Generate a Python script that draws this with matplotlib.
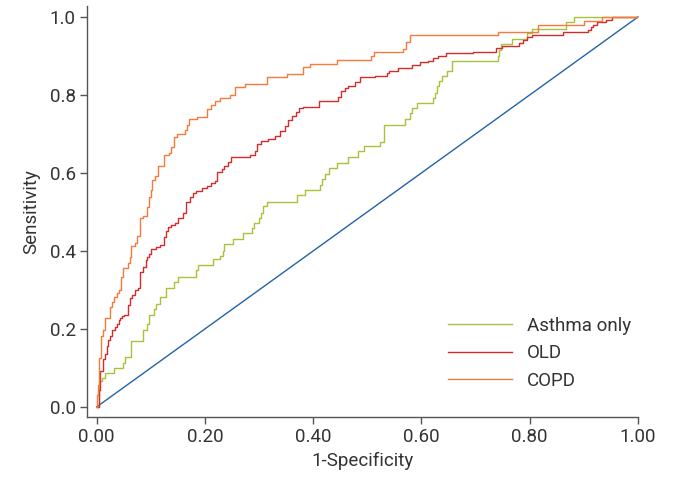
import matplotlib
matplotlib.use("Agg")
import matplotlib.pyplot as plt
from matplotlib.lines import Line2D

plt.rcParams['font.family'] = ['Roboto', 'DejaVu Sans']

# ROC step points: (fpr at which curve jumps, tpr after jump)
copd_fpr = [0.000, 0.000, 0.002, 0.005, 0.008, 0.012, 0.015, 0.024, 0.028, 0.032, 0.037, 0.042,
            0.045, 0.049, 0.057, 0.061, 0.063, 0.070, 0.074, 0.079, 0.085, 0.092, 0.096, 0.100,
            0.102, 0.108, 0.114, 0.125, 0.133, 0.137, 0.142, 0.148, 0.163, 0.167, 0.170, 0.186,
            0.204, 0.212, 0.219, 0.227, 0.247, 0.255, 0.274, 0.314, 0.352, 0.381, 0.394, 0.443,
            0.506, 0.512, 0.566, 0.571, 0.579, 0.742, 0.815, 0.900, 0.933, 1.000]
copd_tpr = [0.000, 0.030, 0.056, 0.126, 0.182, 0.197, 0.228, 0.256, 0.269, 0.282, 0.292, 0.300,
            0.333, 0.356, 0.369, 0.385, 0.413, 0.421, 0.437, 0.485, 0.490, 0.513, 0.538, 0.556,
            0.582, 0.592, 0.618, 0.646, 0.651, 0.667, 0.692, 0.700, 0.710, 0.723, 0.738, 0.744,
            0.764, 0.774, 0.785, 0.792, 0.800, 0.821, 0.828, 0.845, 0.854, 0.872, 0.879, 0.889,
            0.899, 0.910, 0.918, 0.935, 0.954, 0.962, 0.979, 0.990, 1.000, 1.000]

old_fpr = [0.000, 0.004, 0.006, 0.012, 0.016, 0.019, 0.021, 0.025, 0.028, 0.033, 0.038, 0.041,
           0.043, 0.047, 0.051, 0.058, 0.062, 0.066, 0.070, 0.077, 0.079, 0.086, 0.091, 0.093,
           0.097, 0.100, 0.110, 0.117, 0.125, 0.128, 0.132, 0.138, 0.144, 0.151, 0.160, 0.165,
           0.172, 0.178, 0.184, 0.195, 0.203, 0.211, 0.219, 0.222, 0.231, 0.236, 0.243, 0.248,
           0.283, 0.292, 0.297, 0.303, 0.317, 0.329, 0.339, 0.347, 0.353, 0.361, 0.369, 0.374,
           0.381, 0.410, 0.445, 0.451, 0.458, 0.465, 0.478, 0.486, 0.514, 0.537, 0.540, 0.556,
           0.583, 0.597, 0.612, 0.621, 0.631, 0.645, 0.696, 0.737, 0.748, 0.781, 0.788, 0.794,
           0.804, 0.862, 0.908, 0.914, 0.917, 0.924, 0.941, 0.952, 1.000]
old_tpr = [0.000, 0.044, 0.091, 0.123, 0.136, 0.156, 0.172, 0.182, 0.197, 0.205, 0.213, 0.223,
           0.228, 0.232, 0.236, 0.260, 0.279, 0.287, 0.299, 0.305, 0.347, 0.359, 0.377, 0.385,
           0.392, 0.404, 0.411, 0.415, 0.435, 0.451, 0.462, 0.467, 0.472, 0.484, 0.497, 0.526,
           0.537, 0.548, 0.554, 0.560, 0.567, 0.574, 0.579, 0.602, 0.609, 0.618, 0.627, 0.642,
           0.647, 0.655, 0.674, 0.682, 0.686, 0.695, 0.707, 0.720, 0.736, 0.745, 0.755, 0.766,
           0.768, 0.785, 0.795, 0.811, 0.818, 0.824, 0.834, 0.845, 0.849, 0.856, 0.862, 0.869,
           0.876, 0.884, 0.888, 0.895, 0.899, 0.907, 0.910, 0.921, 0.926, 0.934, 0.941, 0.948,
           0.954, 0.961, 0.967, 0.974, 0.978, 0.986, 0.992, 1.000, 1.000]

asthma_fpr = [0.000, 0.005, 0.010, 0.016, 0.032, 0.048, 0.053, 0.063, 0.086, 0.092, 0.097, 0.106,
              0.109, 0.116, 0.128, 0.143, 0.150, 0.184, 0.188, 0.214, 0.227, 0.233, 0.236, 0.252,
              0.270, 0.286, 0.291, 0.300, 0.304, 0.308, 0.314, 0.370, 0.384, 0.412, 0.417, 0.421,
              0.430, 0.444, 0.464, 0.483, 0.494, 0.524, 0.531, 0.570, 0.579, 0.583, 0.591, 0.622,
              0.625, 0.628, 0.632, 0.637, 0.647, 0.656, 0.741, 0.743, 0.746, 0.767, 0.794, 0.805,
              0.867, 0.882, 1.000]
asthma_tpr = [0.000, 0.067, 0.074, 0.086, 0.099, 0.112, 0.128, 0.170, 0.197, 0.213, 0.236, 0.251,
              0.265, 0.281, 0.306, 0.321, 0.334, 0.350, 0.363, 0.378, 0.386, 0.400, 0.417, 0.431,
              0.445, 0.458, 0.472, 0.484, 0.497, 0.515, 0.526, 0.544, 0.557, 0.569, 0.585, 0.598,
              0.612, 0.625, 0.642, 0.655, 0.670, 0.680, 0.723, 0.737, 0.754, 0.766, 0.779, 0.792,
              0.806, 0.822, 0.836, 0.849, 0.862, 0.887, 0.900, 0.915, 0.931, 0.944, 0.958, 0.969,
              0.986, 1.000, 1.000]

ref_x = [0.0, 1.0]
ref_y = [0.0, 1.0]

series_labels = ['Asthma only', 'OLD', 'COPD']
colors = {'Asthma only': '#a8c23c', 'OLD': '#d42b2b', 'COPD': '#f47b3b'}
ref_color = '#2362a8'

xticks = [0.0, 0.2, 0.4, 0.6, 0.8, 1.0]
xticklabels = ['0.00', '0.20', '0.40', '0.60', '0.80', '1.00']
yticks = [0.0, 0.2, 0.4, 0.6, 0.8, 1.0]
yticklabels = ['0.0', '0.2', '0.4', '0.6', '0.8', '1.0']

W, H = 674, 479
fig = plt.figure(figsize=(W / 100, H / 100), dpi=100)
ax = fig.add_axes([87 / W, 1 - 417 / H, (638 - 87) / W, (417 - 6) / H])

text_color = '#333333'
fs = 13.5
lw = 1.0
ax.plot(ref_x, ref_y, color=ref_color, lw=lw, clip_on=False, zorder=2)
ax.plot(asthma_fpr, asthma_tpr, drawstyle='steps-post', color=colors['Asthma only'], lw=lw, zorder=3)
ax.plot(old_fpr, old_tpr, drawstyle='steps-post', color=colors['OLD'], lw=lw, zorder=4)
ax.plot(copd_fpr, copd_tpr, drawstyle='steps-post', color=colors['COPD'], lw=lw, zorder=5)

ax.set_xlim(-0.018, 1.0)
ax.set_ylim(-0.026, 1.028)
for s in ['top', 'right']:
    ax.spines[s].set_visible(False)
for s in ['left', 'bottom']:
    ax.spines[s].set_color('#555555')
    ax.spines[s].set_linewidth(1.0)

ax.set_xticks(xticks)
ax.set_xticklabels(xticklabels)
ax.set_yticks(yticks)
ax.set_yticklabels(yticklabels)
ax.tick_params(axis='both', direction='out', length=5, width=1.0, color='#555555',
               labelsize=fs, labelcolor=text_color, pad=3)

ax.set_xlabel('1-Specificity', fontsize=fs, color=text_color, labelpad=4)
ax.set_ylabel('Sensitivity', fontsize=fs, color=text_color, labelpad=7)

handles = [Line2D([], [], color=colors[k], lw=lw) for k in series_labels]
leg = fig.legend(handles, series_labels, loc='upper left',
                 bbox_to_anchor=(448 / W, 1 - 317 / H), frameon=False,
                 fontsize=fs, handlelength=3.4, handletextpad=0.8,
                 labelspacing=0.5, borderpad=0, borderaxespad=0)
for t in leg.get_texts():
    t.set_color(text_color)

fig.savefig('out.png', dpi=100)
